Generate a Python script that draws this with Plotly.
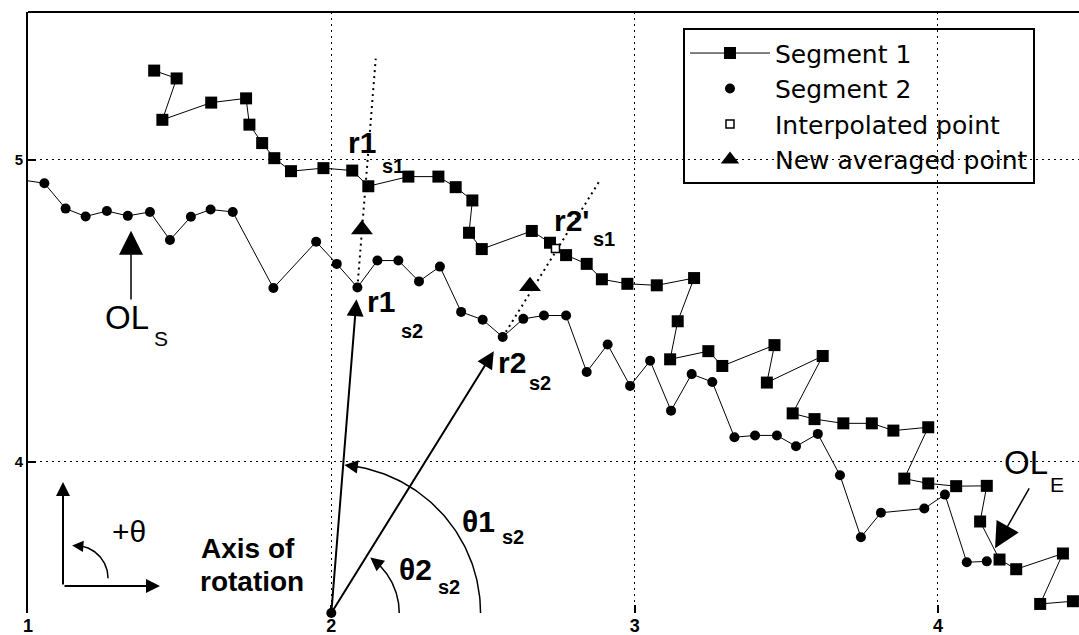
import numpy as np
import plotly.graph_objects as go

FONT = "Liberation Sans, Arial, Helvetica, sans-serif"
LEGEND_FONT = "DejaVu Sans, Arial, sans-serif"

# ---- data -------------------------------------------------------------
seg1_x = [1.416, 1.490, 1.443, 1.604, 1.719, 1.730, 1.772, 1.812, 1.867, 1.974,
          2.069, 2.122, 2.254, 2.353, 2.410, 2.465, 2.454, 2.496, 2.661, 2.721,
          2.774, 2.842, 2.892, 2.976, 3.073, 3.196, 3.142, 3.117, 3.243, 3.289,
          3.461, 3.436, 3.620, 3.521, 3.593, 3.688, 3.782, 3.853, 3.968, 3.889,
          3.968, 4.060, 4.161, 4.139, 4.203, 4.258, 4.412, 4.337, 4.445]
seg1_y = [5.296, 5.270, 5.133, 5.190, 5.204, 5.117, 5.056, 5.006, 4.963, 4.973,
          4.965, 4.913, 4.945, 4.945, 4.910, 4.866, 4.759, 4.705, 4.765, 4.726,
          4.685, 4.656, 4.605, 4.590, 4.585, 4.609, 4.466, 4.340, 4.367, 4.318,
          4.387, 4.263, 4.351, 4.161, 4.142, 4.128, 4.128, 4.104, 4.115, 3.945,
          3.929, 3.920, 3.921, 3.803, 3.677, 3.645, 3.697, 3.530, 3.539]

seg2_x = [0.980, 1.054, 1.124, 1.190, 1.260, 1.329, 1.402, 1.468, 1.537, 1.602,
          1.675, 1.809, 1.950, 2.018, 2.086, 2.152, 2.221, 2.289, 2.358, 2.428,
          2.499, 2.565, 2.633, 2.701, 2.774, 2.842, 2.911, 2.985, 3.051, 3.120,
          3.188, 3.256, 3.329, 3.397, 3.469, 3.532, 3.604, 3.677, 3.746, 3.812,
          3.955, 4.023, 4.095, 4.161]
seg2_y = [4.934, 4.923, 4.839, 4.813, 4.831, 4.815, 4.828, 4.735, 4.812, 4.836,
          4.828, 4.576, 4.729, 4.656, 4.578, 4.667, 4.667, 4.598, 4.647, 4.497,
          4.471, 4.414, 4.474, 4.485, 4.485, 4.298, 4.389, 4.252, 4.335, 4.170,
          4.291, 4.265, 4.082, 4.088, 4.088, 4.052, 4.093, 3.956, 3.751, 3.832,
          3.846, 3.892, 3.668, 3.671]

interp_x = [2.739]
interp_y = [4.707]

avg_x = [2.101, 2.655]
avg_y = [4.770, 4.582]

rotation_axis_x = [2.0]
rotation_axis_y = [3.5]

x_ticks = [1, 2, 3, 4]
y_ticks = [4, 5]

# rays from the rotation axis through segment-2 points r1 and r2
# (index into segment 2, arrow-tip fraction, dotted extension factor)
rays = [(14, 0.964, 1.703), (21, 0.948, 1.562)]

fig = go.Figure()
ox, oy = rotation_axis_x[0], rotation_axis_y[0]


def add_arrow(x0, y0, x1, y1, width=2.0, size=1.6, head=2):
    fig.add_annotation(x=x1, y=y1, ax=x0, ay=y0, xref="x", yref="y",
                       axref="x", ayref="y", text="", showarrow=True,
                       arrowhead=head, arrowsize=size, arrowwidth=width,
                       arrowcolor="black", standoff=0, startstandoff=0,
                       font=dict(size=1))


def arc_xy(cx, cy, r, a0, a1, n=80):
    t = np.radians(np.linspace(a0, a1, n))
    return cx + r * np.cos(t), cy + r * np.sin(t)


def add_curve(xs, ys, width=1.5, dash="solid"):
    fig.add_trace(go.Scatter(x=xs, y=ys, mode="lines", showlegend=False,
                             hoverinfo="skip",
                             line=dict(color="black", width=width, dash=dash)))


# dotted continuation of each ray beyond segment 2, plus the solid arrow
for idx, head_frac, ext in rays:
    px, py = seg2_x[idx], seg2_y[idx]
    dx, dy = px - ox, py - oy
    add_curve([px, ox + ext * dx], [py, oy + ext * dy], width=2, dash="2px,4px")
    add_arrow(ox, oy, ox + head_frac * dx, oy + head_frac * dy, width=2, size=1.7)

# angle arcs measured from the x direction about the rotation axis
arcs = [(0.492, 0, 82, 79, 85), (0.224, 0, 50, 47, 55)]
for r, a0, a1, t0, t1 in arcs:
    ax_, ay_ = arc_xy(ox, oy, r, a0, a1)
    add_curve(ax_, ay_, width=1.5)
    tx, ty = arc_xy(ox, oy, r, t0, t1, 2)
    add_arrow(tx[0], ty[0], tx[1], ty[1], width=1.5, size=1.8)

# segment 2 connecting line (its legend entry shows the dot only)
fig.add_trace(go.Scatter(x=seg2_x, y=seg2_y, mode="lines", showlegend=False,
                         hoverinfo="skip", line=dict(color="black", width=1)))

fig.add_trace(go.Scatter(x=seg1_x, y=seg1_y, mode="lines+markers", name="Segment 1",
                         line=dict(color="black", width=1),
                         marker=dict(symbol="square", size=12, color="black")))
fig.add_trace(go.Scatter(x=seg2_x, y=seg2_y, mode="markers", name="Segment 2",
                         marker=dict(symbol="circle", size=10, color="black")))
fig.add_trace(go.Scatter(x=interp_x, y=interp_y, mode="markers",
                         name="Interpolated point",
                         marker=dict(symbol="square", size=8, color="white",
                                     line=dict(color="black", width=1.5))))
fig.add_trace(go.Scatter(x=avg_x, y=avg_y, mode="markers", name="New averaged point",
                         marker=dict(symbol="triangle-up", size=19, color="black")))
fig.add_trace(go.Scatter(x=rotation_axis_x, y=rotation_axis_y, mode="markers",
                         showlegend=False, hoverinfo="skip", cliponaxis=False,
                         marker=dict(symbol="circle", size=10, color="black")))

# OL_S / OL_E pointers
add_arrow(1.3396, 4.533, 1.3396, 4.766, width=1.5, size=3.2)
add_arrow(4.3036, 3.918, 4.1883, 3.714, width=1.5, size=3.4)

# rotation sense icon (lower left)
icon_x, icon_y = 1.1154, 3.589
add_arrow(icon_x, icon_y, icon_x, 3.934, width=2, size=1.4)
add_arrow(icon_x, icon_y, 1.4352, icon_y, width=2, size=1.4)
cx_, cy_ = arc_xy(1.155, 3.615, 0.109, 0, 80)
add_curve(cx_, cy_, width=1.5)
tx, ty = arc_xy(1.155, 3.615, 0.109, 76, 95, 2)
add_arrow(tx[0], ty[0], tx[1], ty[1], width=1.5, size=1.5)

labels = [
    ("r1", 2.101, 5.059, 30, True), ("s1", 2.203, 4.980, 20, True),
    ("r2'", 2.794, 4.799, 30, True), ("s1", 2.899, 4.737, 20, True),
    ("r1", 2.164, 4.533, 30, True), ("s2", 2.266, 4.434, 20, True),
    ("r2", 2.596, 4.329, 30, True), ("s2", 2.688, 4.263, 20, True),
    ("θ1", 2.484, 3.803, 30, True), ("s2", 2.599, 3.753, 20, True),
    ("θ2", 2.279, 3.645, 30, True), ("s2", 2.388, 3.586, 20, True),
    ("OL", 1.326, 4.477, 33, False), ("S", 1.439, 4.408, 21, False),
    ("OL", 4.291, 3.997, 33, False), ("E", 4.393, 3.924, 21, False),
    ("+θ", 1.333, 3.770, 30, False),
    ("Axis of", 1.725, 3.714, 28, True), ("rotation", 1.739, 3.605, 28, True),
]
for text, x, y, size, bold in labels:
    fig.add_annotation(x=x, y=y, xref="x", yref="y", showarrow=False,
                       text=f"<b>{text}</b>" if bold else text,
                       font=dict(family=FONT, size=size, color="black"),
                       xanchor="center", yanchor="middle")

# top frame line
fig.add_shape(type="line", xref="paper", yref="paper", x0=0, x1=1, y0=1, y1=1,
              line=dict(color="black", width=2))

axis_common = dict(
    showgrid=True, gridcolor="black", gridwidth=1, griddash="2px,4px",
    zeroline=False, ticks="inside", ticklen=8, tickwidth=1.5, tickcolor="black",
    automargin=False,
)
fig.update_xaxes(range=[1, 4.465], tickvals=x_ticks,
                 ticktext=[str(v) for v in x_ticks], showline=False,
                 tickfont=dict(family=FONT, size=18, color="black", weight="bold"),
                 **axis_common)
fig.update_yaxes(range=[3.5, 5.49], tickvals=y_ticks,
                 ticktext=[str(v) for v in y_ticks], showline=True,
                 linecolor="black", linewidth=2,
                 tickfont=dict(family=FONT, size=15, color="black", weight="bold"),
                 **axis_common)

fig.update_layout(
    width=1079, height=635,
    margin=dict(l=28, r=0, t=12, b=22),
    paper_bgcolor="white", plot_bgcolor="white",
    showlegend=True,
    legend=dict(x=0.6232, y=0.9729, xanchor="left", yanchor="top",
                bgcolor="rgba(0,0,0,0)", bordercolor="black", borderwidth=2,
                font=dict(family=LEGEND_FONT, size=25, color="black"),
                itemwidth=80, tracegroupgap=0),
)

fig.write_html("out.html")
